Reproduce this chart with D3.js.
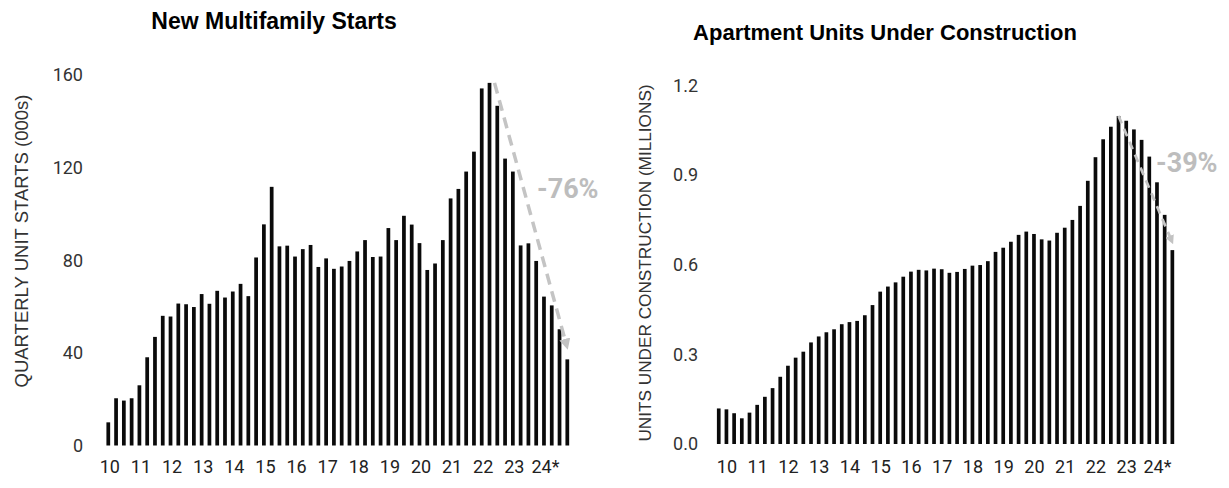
<!DOCTYPE html>
<html>
<head>
<meta charset="utf-8">
<script src="https://cdn.jsdelivr.net/npm/d3@7"></script>
<style>
  html, body { margin: 0; padding: 0; background: #fff; }
  svg { display: block; }
  text { font-family: "Liberation Sans Narrow", "Arial Narrow", "Liberation Sans", sans-serif; }
</style>
</head>
<body>
<svg id="chart" width="1229" height="488"></svg>
<script>
// Quarterly categories, 2010 Q1 through 2024 Q4
const years = ["10","11","12","13","14","15","16","17","18","19","20","21","22","23","24*"];
const quarters = years.flatMap(y => ["Q1","Q2","Q3","Q4"].map(q => y + " " + q));

// New multifamily starts, thousands of units per quarter
const starts = [
  10, 20.4, 19.4, 20.4,
  26, 38.1, 46.9, 56,
  55.7, 61.3, 61, 59.8,
  65.4, 61.2, 66.8, 63.9,
  66.5, 69.8, 64.5, 81.2,
  95.5, 111.7, 86, 86.3,
  81.6, 84.8, 86.6, 77.1,
  80.8, 76.3, 77.3, 79.7,
  83.8, 88.7, 81.4, 81.6,
  93.9, 88.7, 99.2, 95.4,
  87.4, 75.8, 78.6, 88.7,
  106.7, 110.8, 118.3, 126.9,
  154.2, 156.6, 146.7, 123.9,
  118.3, 86.4, 87.3, 79.7,
  64.3, 60.5, 50.2, 37.2
];

// Apartment units under construction, millions
const underConstruction = [
  0.119, 0.116, 0.103, 0.086,
  0.105, 0.131, 0.158, 0.187,
  0.225, 0.262, 0.289, 0.309,
  0.340, 0.360, 0.374, 0.384,
  0.401, 0.408, 0.412, 0.431,
  0.465, 0.510, 0.527, 0.541,
  0.560, 0.577, 0.583, 0.581,
  0.587, 0.585, 0.573, 0.576,
  0.586, 0.597, 0.599, 0.612,
  0.643, 0.657, 0.677, 0.700,
  0.711, 0.703, 0.685, 0.681,
  0.707, 0.724, 0.750, 0.797,
  0.881, 0.960, 1.020, 1.062,
  1.098, 1.082, 1.053, 1.018,
  0.962, 0.876, 0.767, 0.649
];

const startsTicks = [0, 40, 80, 120, 160];
const constructionTicks = [0, 0.3, 0.6, 0.9, 1.2];

const svg = d3.select("#chart");

// arrowhead for the decline annotations
const defs = svg.append("defs");
defs.append("marker")
  .attr("id", "arrowHead")
  .attr("viewBox", "0 0 10 10")
  .attr("refX", 5).attr("refY", 5)
  .attr("markerWidth", 3.2).attr("markerHeight", 3.2)
  .attr("orient", "auto")
  .append("path")
  .attr("d", "M0,0 L10,5 L0,10 Z")
  .attr("fill", "#c2c2c2");

function drawPanel(cfg) {
  const g = svg.append("g");

  const x = d3.scaleBand()
    .domain(quarters)
    .range(cfg.xRange)
    .paddingInner(0.52)
    .paddingOuter(0.26);

  const y = d3.scaleLinear()
    .domain([0, cfg.ticks[cfg.ticks.length - 1]])
    .range(cfg.yRange);

  // bars
  g.append("g").selectAll("rect")
    .data(cfg.values)
    .join("rect")
    .attr("x", (d, i) => x(quarters[i]))
    .attr("width", x.bandwidth())
    .attr("y", d => y(d))
    .attr("height", d => y(0) - y(d))
    .attr("fill", "#0a0a0a");

  // y axis (labels only)
  const yAxis = g.append("g")
    .attr("transform", `translate(${cfg.yAxisX},0)`)
    .call(d3.axisLeft(y).tickValues(cfg.ticks).tickSize(0).tickPadding(0).tickFormat(cfg.tickFormat));
  yAxis.select(".domain").remove();
  yAxis.selectAll("text")
    .attr("font-size", 18)
    .attr("fill", "#333")
    .style("font-family", "Roboto, 'Liberation Sans', sans-serif");

  // x axis: one label per year
  const yearTicks = years.map((yr, k) => quarters[k * 4 + cfg.labelQuarter]);
  const xAxis = g.append("g")
    .attr("transform", `translate(${x.bandwidth() / 2 + cfg.labelShift},${cfg.xAxisY})`)
    .call(d3.axisBottom(d3.scalePoint().domain(quarters).range([x(quarters[0]), x(quarters[quarters.length - 1])]))
      .tickValues(yearTicks).tickSize(0).tickPadding(0)
      .tickFormat(d => d.split(" ")[0]));
  xAxis.select(".domain").remove();
  xAxis.selectAll("text")
    .attr("font-size", 18)
    .attr("fill", "#222")
    .style("font-family", "Roboto, 'Liberation Sans', sans-serif");

  // title
  g.append("text")
    .attr("x", cfg.titleX)
    .attr("y", cfg.titleY)
    .attr("text-anchor", "middle")
    .attr("font-size", cfg.titleSize)
    .attr("font-weight", "bold")
    .attr("fill", "#000")
    .text(cfg.title);

  // y axis title
  g.append("text")
    .attr("transform", `translate(${cfg.yTitleX},${cfg.yTitleY}) rotate(-90)`)
    .attr("text-anchor", "middle")
    .attr("font-size", cfg.yTitleSize)
    .attr("fill", "#333")
    .text(cfg.yTitle);

  // decline annotation: dashed arrow from the peak to the latest quarter
  const n = cfg.values.length;
  const peakIdx = d3.maxIndex(cfg.values);
  const cx = i => x(quarters[i]) + x.bandwidth() / 2;
  g.append("line")
    .attr("x1", cx(peakIdx) + cfg.arrowStartDx)
    .attr("y1", y(cfg.values[peakIdx]))
    .attr("x2", cx(n - 1) - 1)
    .attr("y2", y(cfg.values[n - 1]) - cfg.arrowEndGap)
    .attr("stroke", "#c4c4c4")
    .attr("stroke-width", cfg.arrowWidth)
    .attr("stroke-dasharray", cfg.dash)
    .attr("marker-end", "url(#arrowHead)");

  g.append("text")
    .attr("x", cfg.pctX)
    .attr("y", cfg.pctY)
    .attr("font-size", 27)
    .attr("font-weight", "bold")
    .attr("fill", "#bdbdbd")
    .style("font-family", "Roboto, 'Liberation Sans', sans-serif")
    .attr("dominant-baseline", "middle")
    .text(cfg.pctText);
}

drawPanel({
  values: starts,
  ticks: startsTicks,
  tickFormat: d3.format("d"),
  xRange: [104.4, 571.2],
  yRange: [445.5, 75],
  yAxisX: 83,
  xAxisY: 460,
  labelQuarter: 0,
  labelShift: 1,
  title: "New Multifamily Starts",
  titleX: 274, titleY: 29, titleSize: 23,
  yTitle: "QUARTERLY UNIT STARTS (000s)",
  yTitleX: 28, yTitleY: 241, yTitleSize: 18.5,
  arrowStartDx: 5, arrowEndGap: 15, arrowWidth: 3.5, dash: "11,7",
  pctX: 537, pctY: 191, pctText: "-76%"
});

drawPanel({
  values: underConstruction,
  ticks: constructionTicks,
  tickFormat: d3.format(".1f"),
  xRange: [714.9, 1176.2],
  yRange: [444, 85.5],
  yAxisX: 698,
  xAxisY: 460,
  labelQuarter: 1,
  labelShift: 0,
  title: "Apartment Units Under Construction",
  titleX: 885, titleY: 40, titleSize: 22,
  yTitle: "UNITS UNDER CONSTRUCTION (MILLIONS)",
  yTitleX: 651, yTitleY: 263, yTitleSize: 17.2,
  arrowStartDx: 0, arrowEndGap: 10, arrowWidth: 2.8, dash: "8,6",
  pctX: 1156, pctY: 165, pctText: "-39%"
});
</script>
</body>
</html>
